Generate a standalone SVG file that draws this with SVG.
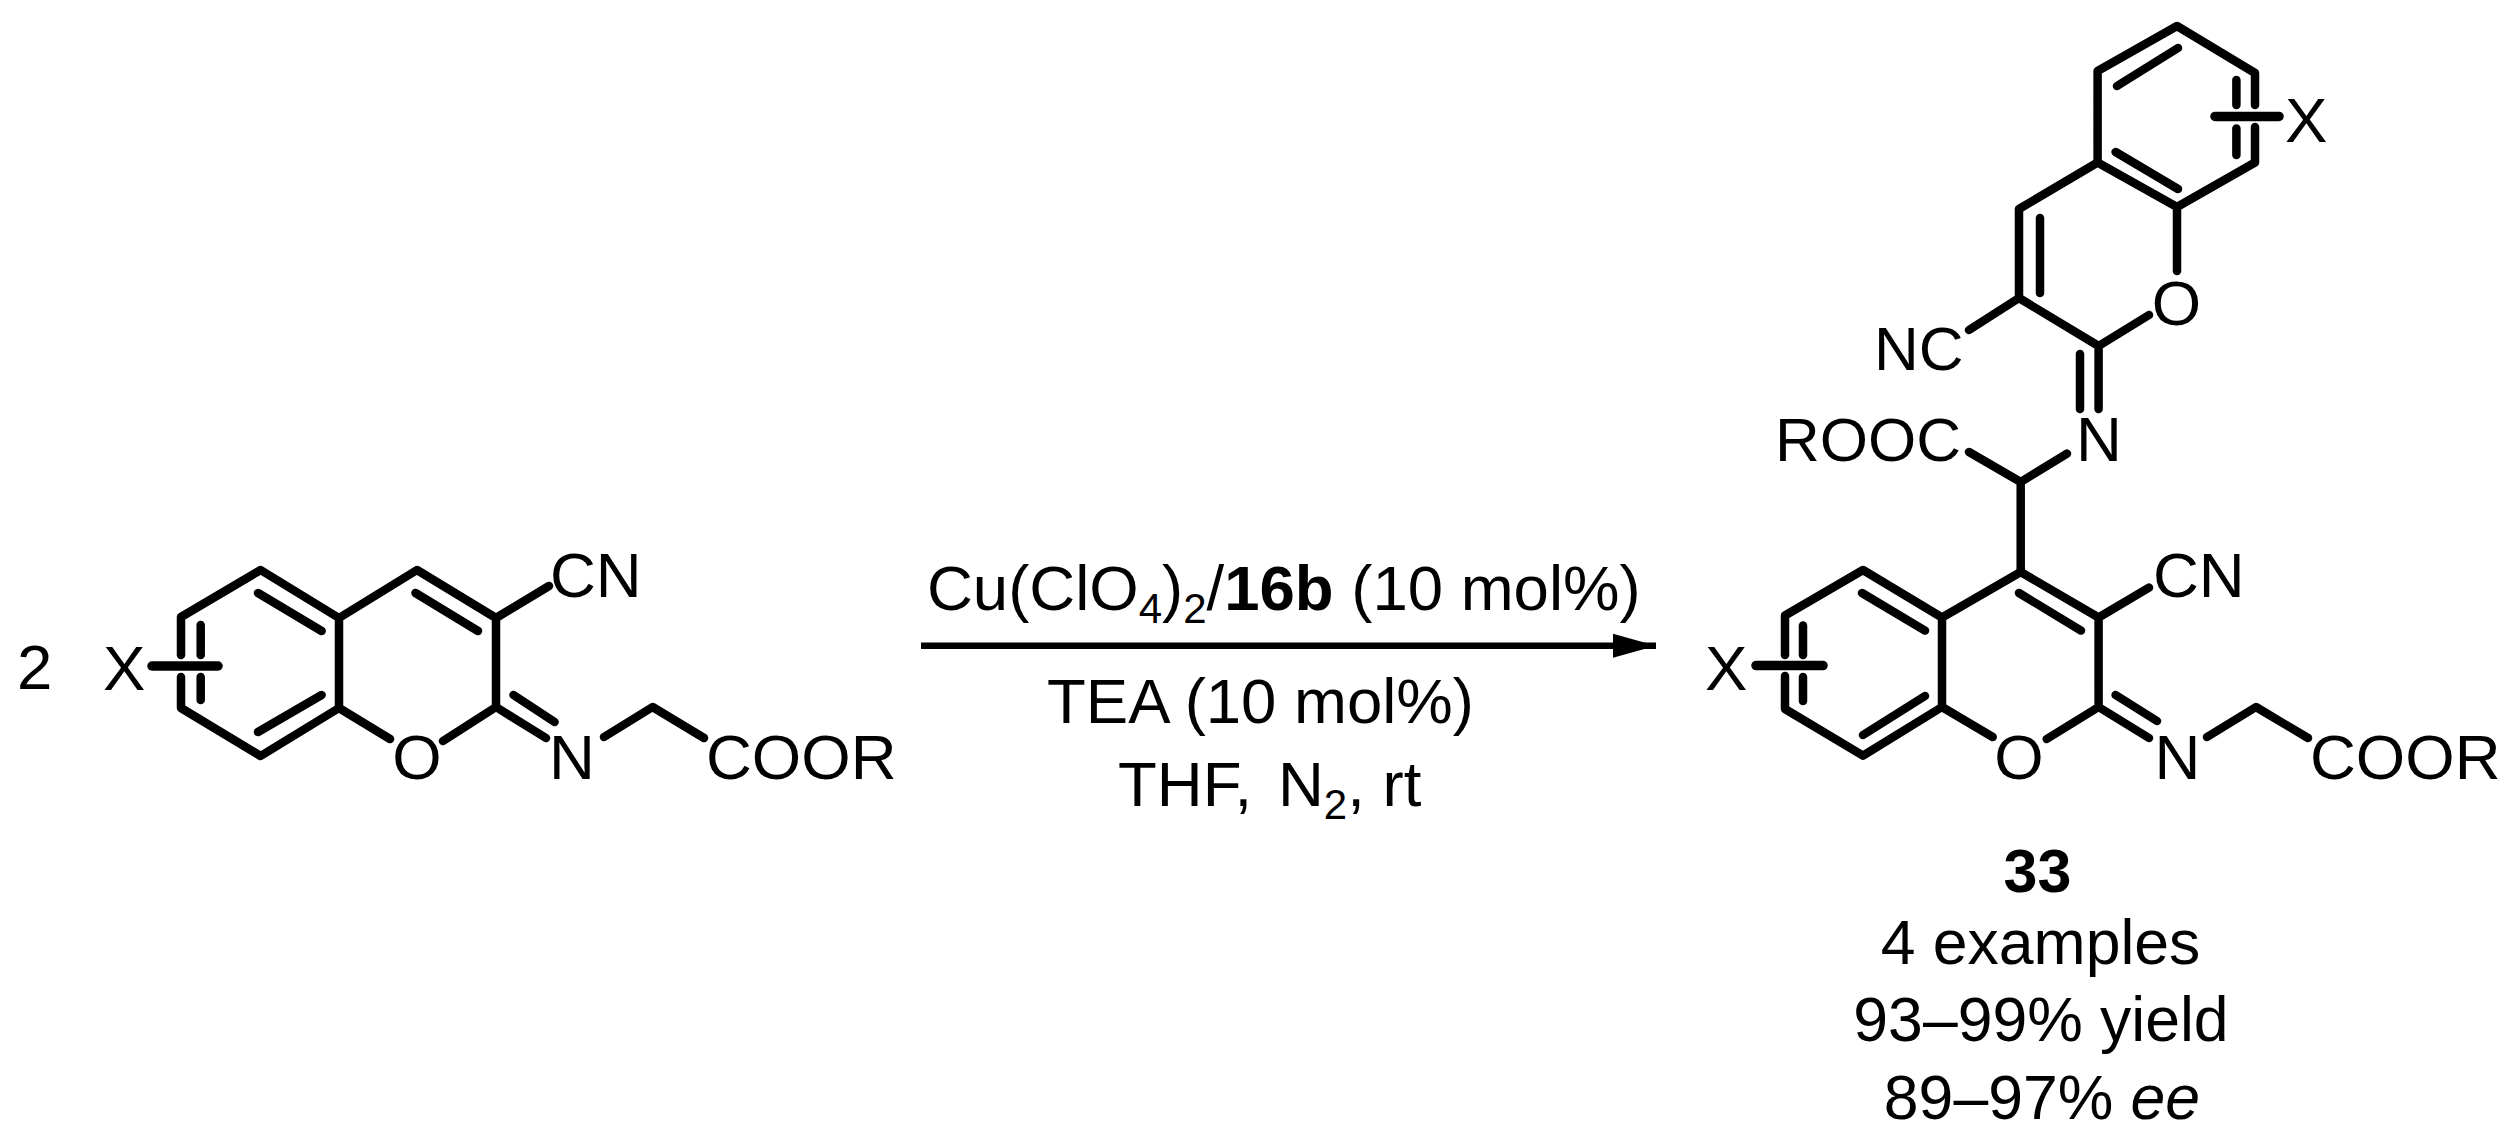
<svg xmlns="http://www.w3.org/2000/svg" width="2511" height="1144" viewBox="0 0 2511 1144">
<defs>
<marker id="head" markerUnits="userSpaceOnUse" markerWidth="44" markerHeight="26" refX="43" refY="13" orient="auto"><path d="M0 1L43 13L0 25Z" fill="#000"/></marker>
</defs>
<style>
text{font-family:"Liberation Sans",Arial,sans-serif;font-size:63.500px;fill:#000}
.b{font-weight:700}
.i{font-style:italic}
.s{font-size:42px}
.m{text-anchor:middle}
.n{font-size:62px}
.l{font-size:61px}
.y{font-size:62.500px}
.bond{fill:none;stroke:#000;stroke-width:8.500;stroke-linecap:round;stroke-linejoin:round}
.sub{fill:none;stroke:#000;stroke-width:9.500;stroke-linecap:round}
</style>
<rect width="2511" height="1144" fill="#fff"/>
<g id="coefficient"><text x="17" y="689">2</text></g>
<g id="reactant">
<path class="bond" d="M181 655V617L260.600 570L339 618V708L260.600 756L181 708V677M339 618L417 570L496 618V707L443 741M339 708L390 739M496 618L549 586M496 707L546 738M604 737L652.600 707L704 738M258 593L321.600 631M258 732L321.600 695M415.500 593L478 631M513.500 695L554.600 722M200.700 625V655M200.700 677V700"/>
<path class="sub" d="M152 666H218"/>
<text x="103" y="690">X</text>
<text x="550" y="597">CN</text>
<text class="m" x="417" y="779">O</text>
<text class="m" x="572" y="779">N</text>
<text x="706" y="779">COOR</text>
</g>
<g id="product">
<path class="bond" d="M2255 105V73L2177 26L2097.600 71V162.500L2177 207L2255 162.500V127M2097.600 162.500L2019 209V298L2098.600 346L2149 315M2177 207V271M2019 298L1969 330M2098.600 346V409M2080 354V409M2117 86L2178 48M2115.600 152L2178 189M2236.400 80V105M2236.400 128.600V155M2040 218V293M1969 452L2020.700 482L2067 453.600M2020.700 482V572"/>
<path class="sub" d="M2215 116.400H2279"/>
<text x="2285" y="142">X</text>
<text class="m" x="2176.500" y="325">O</text>
<text class="n" x="1874" y="370">NC</text>
<text class="n" x="1775" y="461">ROOC</text>
<text class="m" x="2099" y="461">N</text>
<path class="bond" d="M1785 655V615.500L1863 570L1942 617.500V707L1863 755.600L1785 709V676M1942 617.500L2020.700 572L2098.600 617.500V707L2046.700 739M1942 707L1992.700 737M2098.600 617.500L2149 587.600M2098.600 707L2149 738M2207 737L2256 707L2308 738M1862 593L1925 630.600M1863 735L1925 696M2019 593L2081 630.600M2115.600 695L2157 721M1803 625.500V655M1803 677V701"/>
<path class="sub" d="M1756 665.600H1823"/>
<text x="1705" y="690">X</text>
<text x="2153" y="597">CN</text>
<text class="m" x="2019" y="779">O</text>
<text class="m" x="2177.500" y="779">N</text>
<text x="2310" y="779">COOR</text>
</g>
<g id="product-label">
<text class="b m l" x="2037.500" y="892">33</text>
<text class="m y" x="2040.500" y="964">4 examples</text>
<text class="m y" x="2041" y="1041">93–99% yield</text>
<text class="m y" x="2042" y="1119">89–97% <tspan class="i">ee</tspan></text>
</g>
<g id="connectors">
<path d="M921 645.700H1656" fill="none" stroke="#000" stroke-width="6.500" marker-end="url(#head)"/>
</g>
<g id="reagents">
<text x="927" y="610">Cu(ClO<tspan class="s" dy="13">4</tspan><tspan dy="-13">)</tspan><tspan class="s" dy="13">2</tspan><tspan dy="-13">/</tspan><tspan class="b">16b</tspan> (10 mol%)</text>
<text x="1047" y="723">TEA (10 mol%)</text>
<text x="1118" y="806">THF,<tspan x="1278">N</tspan><tspan class="s" dy="13">2</tspan><tspan dy="-13">, rt</tspan></text>
</g>
</svg>
